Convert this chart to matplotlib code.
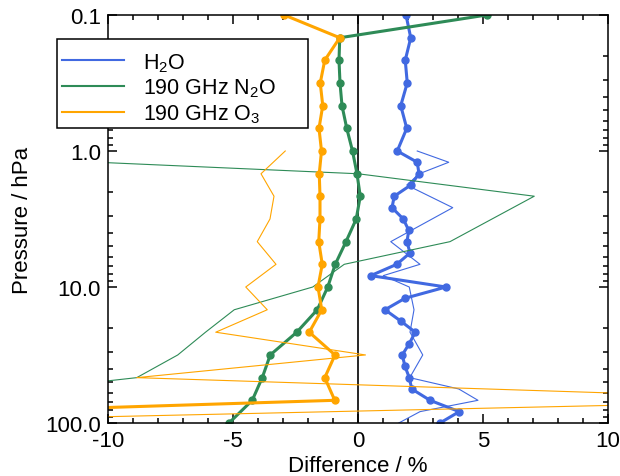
import numpy as np
import matplotlib
matplotlib.use("Agg")
import matplotlib.pyplot as plt
from matplotlib.lines import Line2D
from matplotlib.patches import Rectangle
from matplotlib.ticker import FixedLocator, FixedFormatter, NullFormatter

plt.rcParams['font.family'] = ['Liberation Sans', 'DejaVu Sans']
plt.rcParams['mathtext.default'] = 'regular'

# pressure levels (hPa)
p_coarse = [0.1, 0.147, 0.215, 0.316, 0.464, 0.681, 1.0, 1.47, 2.15, 3.16,
            4.64, 6.81, 10.0, 14.7, 21.5, 31.6, 46.4, 68.1, 100.0]
p_h2o = [0.1, 0.147, 0.215, 0.316, 0.464, 0.681,
         1.0, 1.21, 1.47, 1.78, 2.15, 2.61, 3.16, 3.83, 4.64, 5.62, 6.81, 8.25,
         10.0, 12.1, 14.7, 17.8, 21.5, 26.1, 31.6, 38.3, 46.4, 56.2, 68.1, 82.5, 100.0]

# thick lines (with dots)
h2o_thick = [1.92, 2.11, 1.89, 1.97, 1.71, 1.95,
             1.57, 2.37, 2.44, 2.11, 1.45, 1.36, 1.81, 2.03, 1.96, 2.08, 1.55, 0.51,
             3.52, 1.88, 1.08, 1.71, 2.29, 2.05, 1.77, 1.88, 2.05, 2.15, 2.88, 4.05, 3.28]
n2o_thick = [5.15, -0.73, -0.76, -0.72, -0.64, -0.45, -0.22, -0.04, 0.09, -0.07,
             -0.48, -0.91, -1.21, -1.63, -2.45, -3.51, -3.83, -4.23, -5.16]
o3_thick = [-2.95, -0.73, -1.33, -1.51, -1.41, -1.56, -1.46, -1.55, -1.52, -1.52,
            -1.57, -1.43, -1.60, -1.45, -1.95, -0.92, -1.33, -0.93, -29.6]

# thin lines (no dots)
p_h2o_thin = [1.0, 1.21, 1.47, 1.78, 2.61, 4.64, 6.81, 8.25, 10.0, 14.7, 21.5,
              31.6, 46.4, 56.2, 68.1, 82.5, 100.0]
h2o_thin = [2.37, 3.63, 2.45, 1.95, 3.79, 1.31, 2.48, 1.01, 2.05, 2.24, 2.08,
            2.59, 2.07, 4.03, 4.80, 2.48, 1.63]
p_n2o_thin = [1.0, 1.47, 2.15, 4.64, 6.81, 10.0, 14.7, 21.5, 31.6, 46.4, 68.1]
n2o_thin = [-20.6, 0.0, 7.05, 3.68, -0.55, -1.81, -4.95, -6.1, -7.21, -8.85, -17.0]
p_o3_thin = [1.0, 1.47, 2.15, 3.16, 4.64, 6.81, 10.0, 14.7, 21.5, 31.6, 46.4, 68.1, 100.0]
o3_thin = [-2.91, -3.88, -3.36, -3.52, -4.03, -3.28, -4.49, -3.63, -5.69, 0.3,
           -8.85, 19.2, -21.3]

blue = '#4169E1'
green = '#2E8B57'
orange = '#FFA500'

fig = plt.figure(figsize=(6.2, 4.77), dpi=100)
ax = fig.add_axes([108/620, 53/477, 500/620, 408/477])

ax.axvline(0, color='black', lw=1.2, zorder=1)

ax.plot(h2o_thin, p_h2o_thin, color=blue, lw=0.8)
ax.plot(h2o_thick, p_h2o, color=blue, lw=2.2, marker='o', ms=5)
ax.plot(n2o_thin, p_n2o_thin, color=green, lw=0.8)
ax.plot(n2o_thick, p_coarse, color=green, lw=2.2, marker='o', ms=5)
ax.plot(o3_thin, p_o3_thin, color=orange, lw=0.8)
ax.plot(o3_thick, p_coarse, color=orange, lw=2.2, marker='o', ms=5)

ax.set_yscale('log')
ax.set_ylim(100, 0.1)
ax.set_xlim(-10, 10)

ax.yaxis.set_major_locator(FixedLocator([0.1, 1, 10, 100]))
ax.yaxis.set_major_formatter(FixedFormatter(['0.1', '1.0', '10.0', '100.0']))
minor_y = [m * 10.0**e for e in (-1, 0, 1) for m in range(2, 10)]
ax.yaxis.set_minor_locator(FixedLocator(minor_y))
ax.yaxis.set_minor_formatter(NullFormatter())
ax.set_xticks([-10, -5, 0, 5, 10])
ax.set_xticklabels(['-10', '-5', '0', '5', '10'])
ax.set_xticks(np.arange(-10, 11, 1), minor=True)

ax.tick_params(which='both', direction='in', top=True, right=True,
               labelsize=16, width=1.1)
ax.tick_params(which='major', length=6.5, pad=5)
ax.tick_params(which='minor', length=3.5)
for s in ax.spines.values():
    s.set_linewidth(1.1)

ax.set_xlabel('Difference / %', fontsize=16, labelpad=3)
ax.set_ylabel('Pressure / hPa', fontsize=16, labelpad=9)

# legend box drawn separately (wider than the entries)
box = Rectangle((57/620, 1 - 129/477), 251/620, 89/477, transform=fig.transFigure,
                facecolor='white', edgecolor='black', lw=1.1, zorder=4)
fig.patches.append(box)

handles = [Line2D([], [], color=blue, lw=1.5),
           Line2D([], [], color=green, lw=1.5),
           Line2D([], [], color=orange, lw=1.5)]
labels = ['H$_2$O', '190 GHz N$_2$O', '190 GHz O$_3$']
leg = fig.legend(handles, labels, loc='upper left', bbox_to_anchor=(62/620, 1 - 52/477),
                 fontsize=15.5, frameon=False, handlelength=2.9, handletextpad=0.85,
                 labelspacing=0.14, borderpad=0, borderaxespad=0)
leg.set_zorder(5)

fig.savefig('out.png', dpi=100)
